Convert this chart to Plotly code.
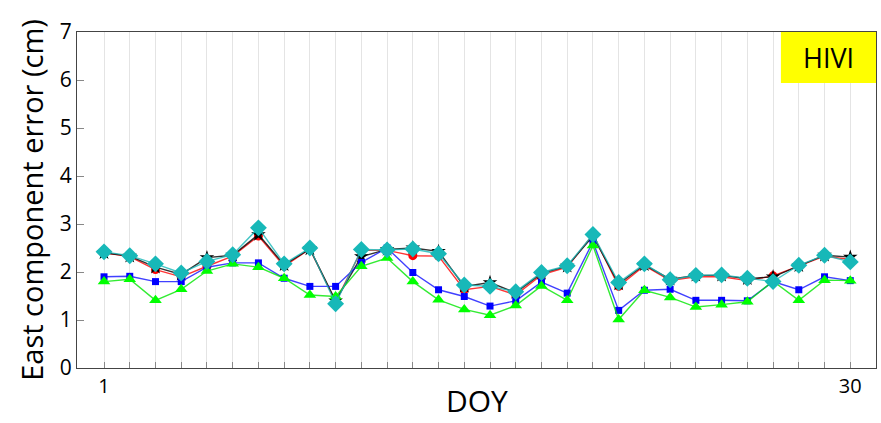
import plotly.graph_objects as go

doy = list(range(1, 31))
red_vals = [2.40, 2.32, 2.05, 1.90, 2.12, 2.33, 2.75, 2.12, 2.48, 1.38,
            2.45, 2.45, 2.34, 2.33, 1.63, 1.70, 1.52, 1.94, 2.10, 2.78,
            1.70, 2.13, 1.82, 1.90, 1.90, 1.82, 1.92, 2.12, 2.33, 2.26]
black_vals = [2.40, 2.33, 2.10, 1.95, 2.30, 2.35, 2.78, 2.15, 2.48, 1.40,
              2.32, 2.47, 2.50, 2.43, 1.70, 1.78, 1.57, 1.97, 2.12, 2.75,
              1.75, 2.15, 1.85, 1.93, 1.93, 1.86, 1.90, 2.13, 2.35, 2.31]
blue_vals = [1.90, 1.91, 1.80, 1.80, 2.10, 2.19, 2.19, 1.87, 1.70, 1.70,
             2.20, 2.50, 1.99, 1.63, 1.49, 1.29, 1.40, 1.79, 1.56, 2.63,
             1.20, 1.62, 1.64, 1.41, 1.41, 1.40, 1.80, 1.63, 1.90, 1.82]
green_vals = [1.80, 1.85, 1.41, 1.64, 2.02, 2.17, 2.10, 1.87, 1.52, 1.49,
              2.12, 2.29, 1.80, 1.42, 1.22, 1.10, 1.30, 1.71, 1.41, 2.55,
              1.01, 1.62, 1.47, 1.27, 1.32, 1.38, 1.81, 1.41, 1.83, 1.82]
cyan_vals = [2.42, 2.34, 2.17, 1.98, 2.22, 2.36, 2.92, 2.17, 2.50, 1.34,
             2.47, 2.46, 2.48, 2.38, 1.73, 1.70, 1.59, 1.99, 2.13, 2.78,
             1.78, 2.17, 1.84, 1.93, 1.94, 1.87, 1.80, 2.14, 2.35, 2.21]

x_ticktext = ["1"] + [""] * 28 + ["30"]

fig = go.Figure()

def add(vals, color, symbol, size, lcolor):
    fig.add_trace(go.Scatter(
        x=doy, y=vals, mode="lines+markers",
        line=dict(color=lcolor, width=1.4),
        marker=dict(color=color, symbol=symbol, size=size, line=dict(width=0)),
        showlegend=False))

add(red_vals, "#ff0000", "circle", 9, "rgba(255,0,0,0.8)")
add(black_vals, "#000000", "star", 11, "rgba(0,0,0,0.8)")
add(blue_vals, "#0000ff", "square", 7, "rgba(0,0,255,0.75)")
add(green_vals, "#00ff00", "triangle-up", 11, "rgba(0,230,0,0.8)")
add(cyan_vals, "#17b8b8", "diamond", 13, "rgba(23,184,184,0.8)")

fig.add_shape(type="rect", xref="paper", yref="paper",
              x0=0.881, x1=1.0, y0=0.848, y1=1.0,
              fillcolor="#ffff00", line=dict(width=0), layer="above")
fig.add_annotation(xref="paper", yref="paper", x=0.9405, y=0.924,
                   xanchor="center", yanchor="middle",
                   text="HIVI", showarrow=False,
                   font=dict(family="Open Sans", size=27, color="#000"))
fig.add_annotation(xref="paper", yref="paper", x=0.5, y=-0.098,
                   xanchor="center", yanchor="middle",
                   text="DOY", showarrow=False,
                   font=dict(family="Open Sans", size=30, color="#000"))

fig.update_layout(
    width=881, height=423,
    margin=dict(l=77, r=5, t=32, b=55),
    paper_bgcolor="white", plot_bgcolor="white",
    font=dict(family="Open Sans", color="#000"),
    xaxis=dict(
        range=[-0.05, 31.0], automargin=False,
        tickmode="array", tickvals=doy, ticktext=x_ticktext,
        ticks="inside", ticklen=6, tickcolor="#888",
        showgrid=True, gridcolor="#e4e4e4", gridwidth=1,
        showline=True, linecolor="#444", linewidth=1, mirror=True,
        zeroline=False,
        tickfont=dict(size=20, family="Open Sans"),
    ),
    yaxis=dict(
        range=[0, 7], dtick=1, automargin=False,
        ticks="inside", ticklen=7, tickcolor="#888",
        showgrid=False,
        showline=True, linecolor="#444", linewidth=1, mirror=True,
        zeroline=False,
        tickfont=dict(size=21, family="Open Sans"),
        title=dict(text="East component error (cm)",
                   font=dict(size=29, family="Open Sans"), standoff=7),
    ),
)

fig.write_html(
    "out.html",
    config={"displayModeBar": False},
    post_script="document.body.style.margin='0px';document.body.style.overflow='hidden';",
)
